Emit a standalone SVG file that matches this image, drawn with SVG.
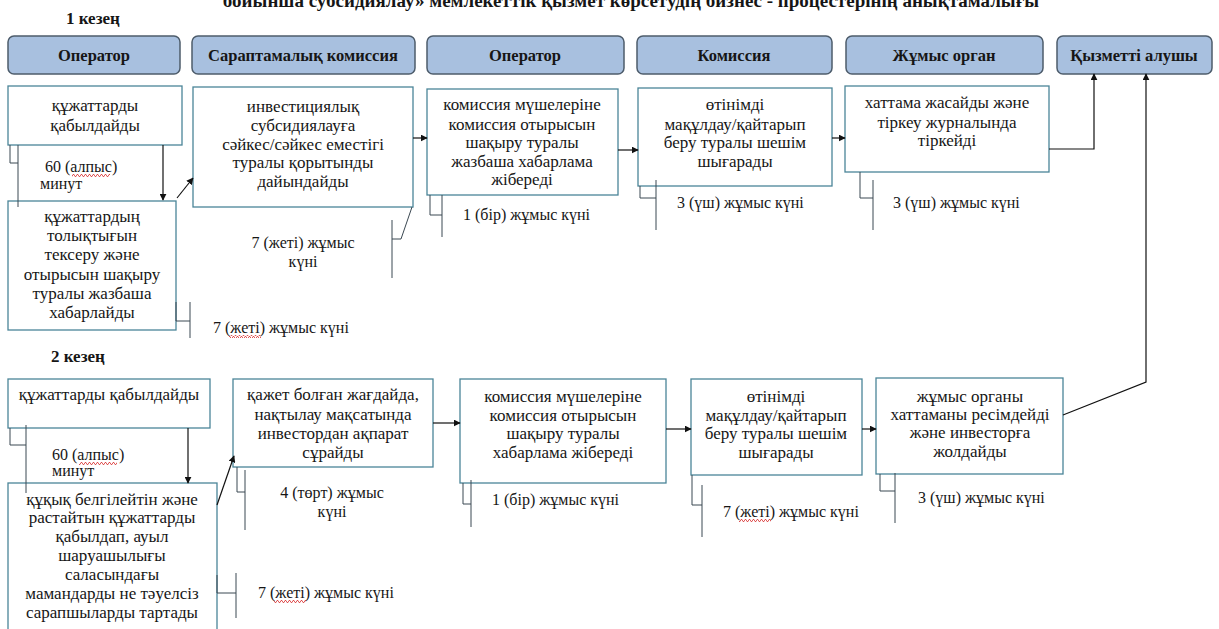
<svg xmlns="http://www.w3.org/2000/svg" width="1219" height="629" viewBox="0 0 1219 629">
<style>
.hdr{fill:#a8c0df;stroke:#4d5c6b;stroke-width:1.5}
.box{fill:#fff;stroke:#4b8598;stroke-width:1.3}
text{font-family:"Liberation Serif","DejaVu Serif",serif;font-size:16px;fill:#161616}
.bt{font-size:17px}
.b{font-weight:bold}
.hd{font-weight:bold;font-size:16.5px;text-anchor:middle}
.st{font-weight:bold;font-size:17px}
.c{text-anchor:middle}
.ttl{font-size:19px;font-weight:bold;text-anchor:middle}
.ln{stroke:#111;stroke-width:1.2;fill:none}
.br{stroke:#3b4852;stroke-width:1;fill:none}
</style>
<defs>
<marker id="ah" viewBox="0 0 10 10" refX="9" refY="5" markerWidth="7" markerHeight="7" orient="auto" markerUnits="userSpaceOnUse"><path d="M0,0 L10,5 L0,10 z" fill="#111"/></marker>
<pattern id="wave" width="4" height="3" patternUnits="userSpaceOnUse"><path d="M0,2.5 L1,0.5 L2,0.5 L3,2.5 L4,2.5" stroke="#d83030" fill="none" stroke-width="0.8"/></pattern>
</defs>
<text class="ttl" x="631" y="7">бойынша субсидиялау» мемлекеттік қызмет көрсетудің бизнес - процестерінің анықтамалығы</text>
<text class="st" x="66" y="24">1 кезең</text>
<text class="st" x="51" y="362">2 кезең</text>
<g id="h1"><rect class="hdr" x="8" y="36" width="172" height="38" rx="6"/><text class="hd" x="94" y="61">Оператор</text></g>
<g id="h2"><rect class="hdr" x="192" y="36" width="223" height="38" rx="6"/><text class="hd" x="303" y="61">Сараптамалық комиссия</text></g>
<g id="h3"><rect class="hdr" x="427" y="36" width="197" height="38" rx="6"/><text class="hd" x="525" y="61">Оператор</text></g>
<g id="h4"><rect class="hdr" x="637" y="36" width="195" height="38" rx="6"/><text class="hd" x="734" y="61">Комиссия</text></g>
<g id="h5"><rect class="hdr" x="846" y="36" width="197" height="38" rx="6"/><text class="hd" x="944" y="61">Жұмыс орган</text></g>
<g id="h6"><rect class="hdr" x="1057" y="36" width="155" height="38" rx="6"/><text class="hd" x="1134" y="61">Қызметті алушы</text></g>
<g id="nA"><rect class="box" x="8" y="86" width="174" height="59"/><text class="c bt" x="95" y="111">құжаттарды</text><text class="c bt" x="95" y="131">қабылдайды</text></g>
<g id="nB"><rect class="box" x="8" y="201" width="168" height="129"/><text class="c bt" x="92" y="222">құжаттардың</text><text class="c bt" x="92" y="241">толықтығын</text><text class="c bt" x="92" y="260">тексеру және</text><text class="c bt" x="92" y="280">отырысын шақыру</text><text class="c bt" x="92" y="299">туралы жазбаша</text><text class="c bt" x="92" y="318">хабарлайды</text></g>
<g id="nC"><rect class="box" x="193" y="87" width="220" height="120"/><text class="c bt" x="303" y="112">инвестициялық</text><text class="c bt" x="303" y="131">субсидиялауға</text><text class="c bt" x="303" y="150">сәйкес/сәйкес еместігі</text><text class="c bt" x="303" y="168">туралы қорытынды</text><text class="c bt" x="303" y="187">дайындайды</text></g>
<g id="nD"><rect class="box" x="427" y="89" width="191" height="106"/><text class="c bt" x="522" y="110">комиссия мүшелеріне</text><text class="c bt" x="522" y="130">комиссия отырысын</text><text class="c bt" x="522" y="148">шақыру туралы</text><text class="c bt" x="522" y="167">жазбаша хабарлама</text><text class="c bt" x="522" y="185">жібереді</text></g>
<g id="nE"><rect class="box" x="638" y="88" width="194" height="98"/><text class="c bt" x="735" y="110">өтінімді</text><text class="c bt" x="735" y="130">мақұлдау/қайтарып</text><text class="c bt" x="735" y="148">беру туралы шешім</text><text class="c bt" x="735" y="167">шығарады</text></g>
<g id="nF"><rect class="box" x="845" y="86" width="204" height="86"/><text class="c bt" x="947" y="108">хаттама жасайды және</text><text class="c bt" x="947" y="128">тіркеу журналында</text><text class="c bt" x="947" y="146">тіркейді</text></g>
<g id="nG"><rect class="box" x="8" y="379" width="202" height="49"/><text class="c bt" x="109" y="400">құжаттарды қабылдайды</text></g>
<g id="nH"><rect class="box" x="8" y="483" width="209" height="150"/><text class="c bt" x="112" y="505">құқық белгілейтін   және</text><text class="c bt" x="112" y="523">растайтын құжаттарды</text><text class="c bt" x="112" y="542">қабылдап, ауыл</text><text class="c bt" x="112" y="561">шаруашылығы</text><text class="c bt" x="112" y="580">саласындағы</text><text class="c bt" x="112" y="599">мамандарды не тәуелсіз</text><text class="c bt" x="112" y="618">сарапшыларды тартады</text></g>
<g id="nI"><rect class="box" x="233" y="379" width="200" height="88"/><text class="c bt" x="333" y="400">қажет болған жағдайда,</text><text class="c bt" x="333" y="420">нақтылау мақсатында</text><text class="c bt" x="333" y="439">инвестордан ақпарат</text><text class="c bt" x="333" y="458">сұрайды</text></g>
<g id="nJ"><rect class="box" x="460" y="379" width="206" height="104"/><text class="c bt" x="563" y="402">комиссия мүшелеріне</text><text class="c bt" x="563" y="421">комиссия отырысын</text><text class="c bt" x="563" y="439">шақыру туралы</text><text class="c bt" x="563" y="458">хабарлама жібереді</text></g>
<g id="nK"><rect class="box" x="691" y="379" width="171" height="96"/><text class="c bt" x="776" y="402">өтінімді</text><text class="c bt" x="776" y="421">мақұлдау/қайтарып</text><text class="c bt" x="776" y="439">беру туралы шешім</text><text class="c bt" x="776" y="458">шығарады</text></g>
<g id="nL"><rect class="box" x="876" y="378" width="187" height="96"/><text class="c bt" x="970" y="402">жұмыс органы</text><text class="c bt" x="970" y="420">хаттаманы ресімдейді</text><text class="c bt" x="970" y="438">және инвесторға</text><text class="c bt" x="970" y="457">жолдайды</text></g>
<g id="connectors">
<path class="ln" d="M163,145 V200" marker-end="url(#ah)"/>
<path class="ln" d="M177,198 L193,178" marker-end="url(#ah)"/>
<path class="ln" d="M413,138 H427" marker-end="url(#ah)"/>
<path class="ln" d="M618,150 H638" marker-end="url(#ah)"/>
<path class="ln" d="M832,138 H845" marker-end="url(#ah)"/>
<path class="ln" d="M1049,149 H1094 V74" marker-end="url(#ah)"/>
<path class="ln" d="M188,428 V483" marker-end="url(#ah)"/>
<path class="ln" d="M217,505 L234,456" marker-end="url(#ah)"/>
<path class="ln" d="M433,423 H460" marker-end="url(#ah)"/>
<path class="ln" d="M666,429 H691" marker-end="url(#ah)"/>
<path class="ln" d="M862,429 H876" marker-end="url(#ah)"/>
<path class="ln" d="M1063,415 L1146,382 V74" marker-end="url(#ah)"/>
</g>
<g id="brackets">
<path class="br" d="M10,145 V163 H18"/><path class="br" d="M18,145 V207"/>
<path class="br" d="M176,302 V321 H190"/><path class="br" d="M190,302 V338"/>
<path class="br" d="M412,207 L401,239 H392"/><path class="br" d="M392,220 V278"/>
<path class="br" d="M430,195 V215 H442"/><path class="br" d="M442,195 V237"/>
<path class="br" d="M640,186 V198 H656"/><path class="br" d="M656,180 V230"/>
<path class="br" d="M860,172 V198 H873"/><path class="br" d="M873,180 V230"/>
<path class="br" d="M10,428 V445 H26"/><path class="br" d="M26,425 V493"/>
<path class="br" d="M217,575 V593 H236"/><path class="br" d="M236,573 V618"/>
<path class="br" d="M237,467 V492 H245"/><path class="br" d="M245,470 V530"/>
<path class="br" d="M463,483 V504 H471"/><path class="br" d="M471,480 V527"/>
<path class="br" d="M692,475 V505 H702"/><path class="br" d="M702,485 V537"/>
<path class="br" d="M880,474 V491 H895"/><path class="br" d="M895,473 V523"/>
</g>
<g id="labels">
<text x="45" y="172">60 (алпыс)</text><text x="40" y="189">минут</text>
<text x="213" y="333">7 (жеті) жұмыс күні</text>
<text class="c" x="303" y="248">7 (жеті) жұмыс</text><text class="c" x="303" y="267">күні</text>
<text x="463" y="220">1 (бір) жұмыс күні</text>
<text x="677" y="208">3 (үш) жұмыс күні</text>
<text x="893" y="208">3 (үш) жұмыс күні</text>
<text x="52" y="460">60 (алпыс)</text><text x="52" y="476">минут</text>
<text x="258" y="598">7 (жеті) жұмыс күні</text>
<text class="c" x="332" y="498">4 (төрт) жұмыс</text><text class="c" x="332" y="517">күні</text>
<text x="492" y="505">1 (бір) жұмыс күні</text>
<text x="723" y="517">7 (жеті) жұмыс күні</text>
<text x="918" y="503">3 (үш) жұмыс күні</text>
</g>
<g id="spell">
<rect x="72" y="174" width="38" height="3" fill="url(#wave)"/>
<rect x="229" y="335" width="32" height="3" fill="url(#wave)"/>
<rect x="79" y="462" width="38" height="3" fill="url(#wave)"/>
<rect x="274" y="600" width="32" height="3" fill="url(#wave)"/>
<rect x="739" y="519" width="32" height="3" fill="url(#wave)"/>
</g>
</svg>
